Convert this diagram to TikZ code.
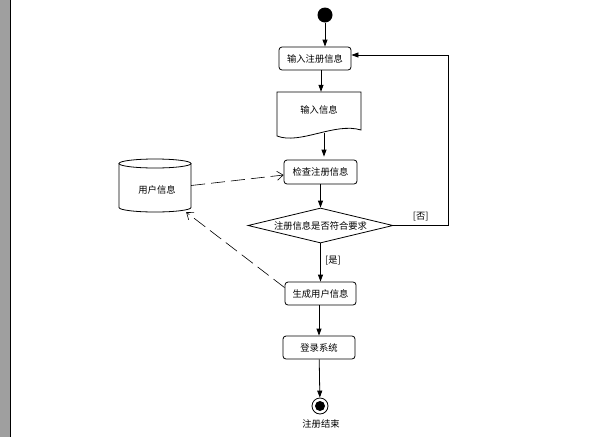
\documentclass[tikz,border=0pt]{standalone}
\usepackage{fontspec}
\newfontfamily\cjk{Noto Sans CJK SC}
\usetikzlibrary{arrows.meta, positioning, shapes.geometric}

\begin{document}
\begin{tikzpicture}[x=1pt,y=-1pt,font=\cjk\fontsize{9.3}{11}\selectfont]
\tikzset{act/.style = {draw, rounded corners=3pt, minimum width=72pt, minimum height=23pt, inner sep=0pt, line width=0.8pt}}
\tikzset{flow/.style = {-{Triangle[length=7pt,width=5pt]}, line width=0.8pt}}
\tikzset{dep/.style = {-{Straight Barb[length=6pt,width=9pt]}, dash pattern=on 14pt off 6pt, line width=0.6pt}}
\useasboundingbox (0,0) rectangle (597,437);
\fill[gray!75] (0,0) rectangle (10,437);
\draw[line width=1.2pt] (10.5,0) -- (10.5,437);
% nodes
\node[circle, fill, minimum size=15pt, inner sep=0pt] (start) at (325,15) {};
\node[act] (input) at (315,58.5) {输入注册信息};
\node[minimum width=84pt, minimum height=44pt, inner sep=0pt] (doc) at (319,114) {};
\node (doclabel) at (319,110) {输入信息};
\node[act, minimum width=73pt, minimum height=24pt] (check) at (320.5,172) {检查注册信息};
\node[draw, diamond, aspect=4.2, inner sep=0pt, minimum width=145pt, minimum height=35pt, line width=0.8pt] (cond) at (320.5,225.5) {注册信息是否符合要求};
\node[act, minimum width=71pt] (gen) at (320.5,293.5) {生成用户信息};
\node[act] (login) at (319,347.5) {登录系统};
\node[circle, draw, minimum size=16pt, inner sep=0pt, line width=0.8pt] (stop) at (320,406) {};
\fill (stop) circle (5);
\node (stoplabel) at (321,424) {注册结束};
\node[minimum width=72pt, minimum height=53pt, inner sep=0pt] (users) at (155,185.5) {};
\node (userslabel) at (157,190) {用户信息};
\coordinate (back) at (448,225.5);
% shapes
\draw[line width=0.8pt] (277,92) -- (361,92) -- (361,130)
  .. controls (335,122) and (300,145) .. (277,136) -- cycle;
\draw[line width=0.8pt] (155,163.5) ellipse [x radius=36, y radius=4.5];
\draw[line width=0.8pt] (119,163.5) -- (119,207.5)
  arc[start angle=180, end angle=0, x radius=36, y radius=4.5] -- (191,163.5);
% edges
\draw[flow] (start) -- (start |- input.north);
\draw[flow] ([xshift=6pt]input.south) -- ([xshift=6pt]input.south |- doc.north);
\draw[flow] ([xshift=5pt,yshift=3pt]doc.south) -- ([xshift=5pt,yshift=3pt]doc.south |- check.north);
\draw[flow] (check) -- (cond);
\draw[flow] (cond.east) -- node[above=1pt] {[否]} (back) |- ([yshift=3.5pt]input.east);
\draw[flow] (cond.south) -- node[right=1pt, pos=0.45] {[是]} (cond.south |- gen.north);
\draw[flow] (gen.south -| login) -- (login);
\draw[flow] (login) -- (stop);
\draw[dep] (users.east) -- ([yshift=-3pt]check.west);
\draw[dep] ([yshift=-6pt]gen.north west) -- ([xshift=-5pt]users.south east);
\end{tikzpicture}
\end{document}
